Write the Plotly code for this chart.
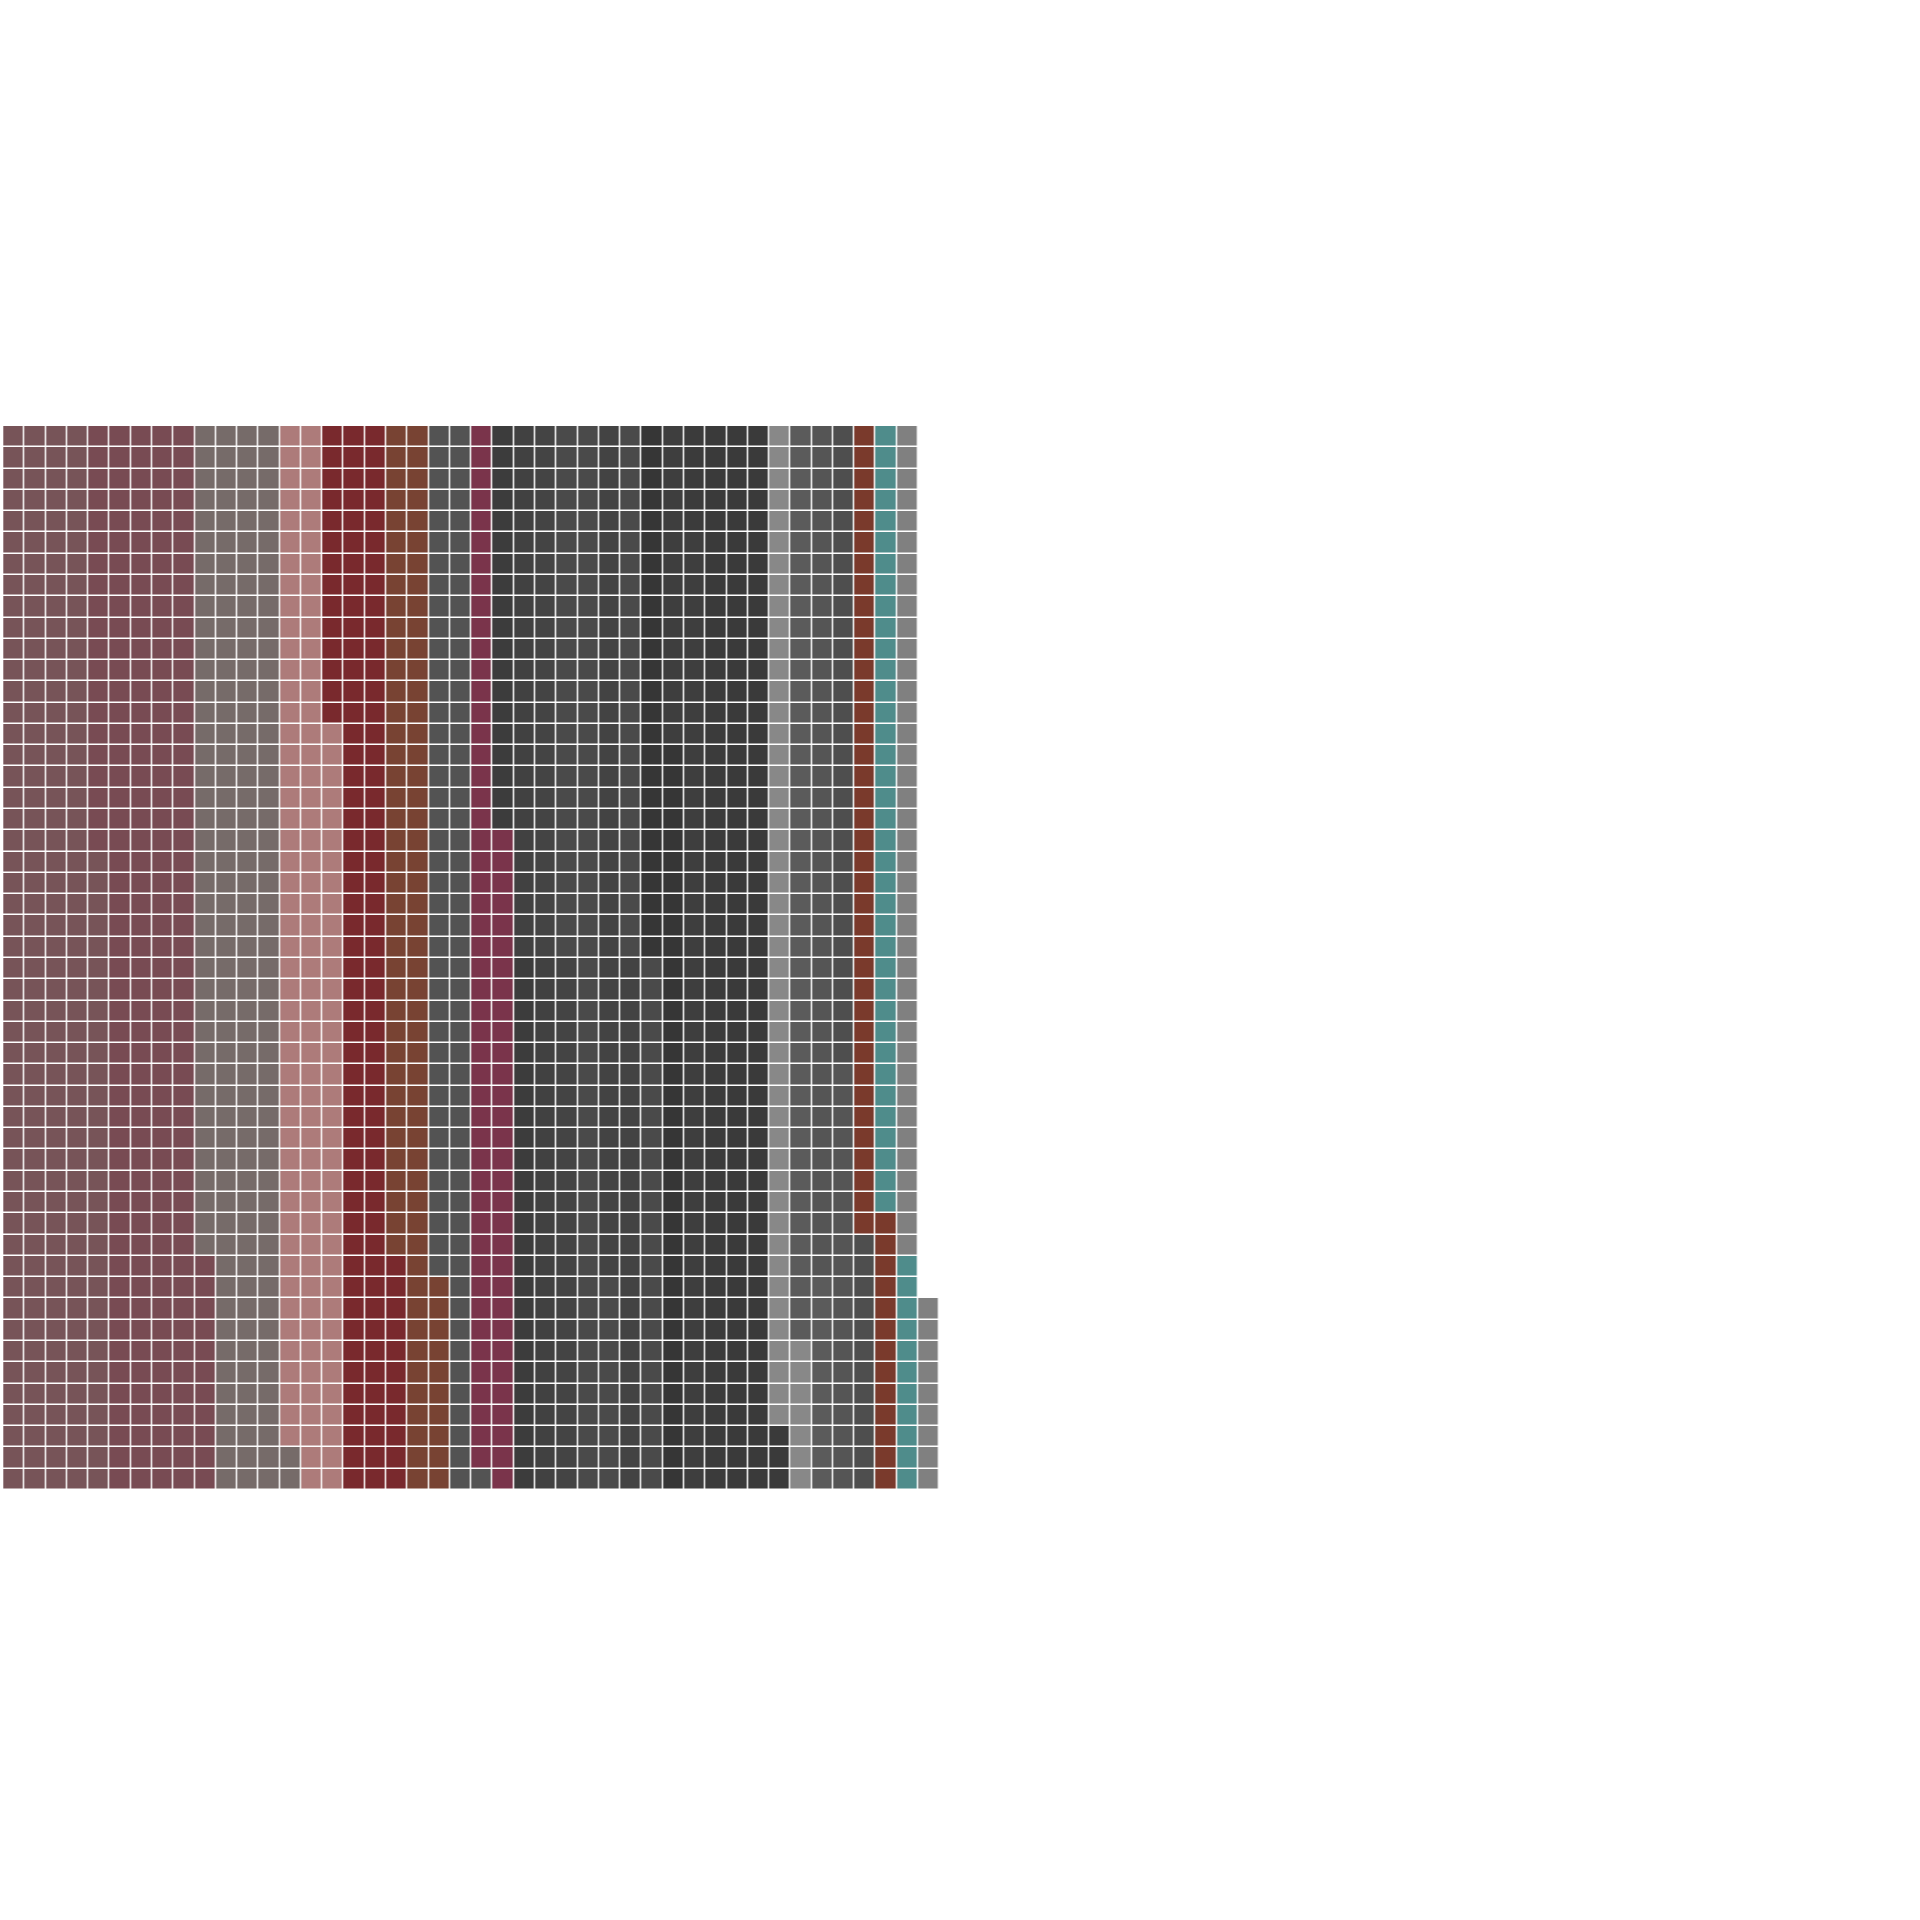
import numpy as np
import plotly.graph_objects as go

# Waffle chart: cells are filled column by column, bottom to top.
N_ROWS = 50
N_COLS = 44

categories = [
    "Cat 01", "Cat 02", "Cat 03", "Cat 04", "Cat 05", "Cat 06", "Cat 07", "Cat 08",
    "Cat 09", "Cat 10", "Cat 11", "Cat 12", "Cat 13", "Cat 14", "Cat 15", "Cat 16",
    "Cat 17", "Cat 18", "Cat 19", "Cat 20", "Cat 21", "Cat 22", "Cat 23", "Cat 24",
]
counts = [
    230, 231, 191, 134, 125, 99, 91, 80,
    44, 50, 50, 85, 65, 50, 60, 60, 44, 50, 64,
    54, 53, 60, 42, 51,
]
# last three after the mid greys
counts_tail = [48, 48]
colors = [
    "#775458", "#784b53", "#766b69", "#ad7b7a", "#79292d", "#784333", "#535353", "#7a344b",
    "#3c3c3c", "#414141", "#444444", "#4a4a4a", "#434343", "#4a4a4a", "#363636", "#3e3e3e",
    "#3b3b3b", "#3a3a3a", "#3a3a3a",
    "#888888", "#5b5b5b", "#555555", "#4e4e4e", "#7a3a2c",
]
colors_tail = ["#4f8c8b", "#808080"]
categories_tail = ["Cat 25", "Cat 26"]

all_counts = counts + counts_tail
all_colors = colors + colors_tail
all_cats = categories + categories_tail

z = np.full((N_ROWS, N_COLS), np.nan)
txt = np.full((N_ROWS, N_COLS), "", dtype=object)
idx = 0
for ci, cnt in enumerate(all_counts):
    for _ in range(cnt):
        col = idx // N_ROWS
        row = idx % N_ROWS
        if col < N_COLS:
            z[row, col] = ci
            txt[row, col] = all_cats[ci]
        idx += 1

n = len(all_colors)
colorscale = []
for i, c in enumerate(all_colors):
    colorscale.append([i / n, c])
    colorscale.append([(i + 1) / n, c])

fig = go.Figure(
    go.Heatmap(
        z=z,
        x=list(range(N_COLS)),
        y=list(range(N_ROWS)),
        text=txt,
        hovertemplate="%{text}<extra></extra>",
        colorscale=colorscale,
        zmin=-0.5,
        zmax=n - 0.5,
        showscale=False,
        xgap=1.5,
        ygap=1.5,
    )
)

fig.update_layout(
    width=1920,
    height=1920,
    margin=dict(l=0, r=0, t=0, b=0),
    paper_bgcolor="white",
    plot_bgcolor="white",
    showlegend=False,
)
fig.update_xaxes(visible=False, range=[-0.655, 89.571], showgrid=False, zeroline=False)
fig.update_yaxes(visible=False, range=[-20.71, 69.52], showgrid=False, zeroline=False)

fig.write_html("out.html")
